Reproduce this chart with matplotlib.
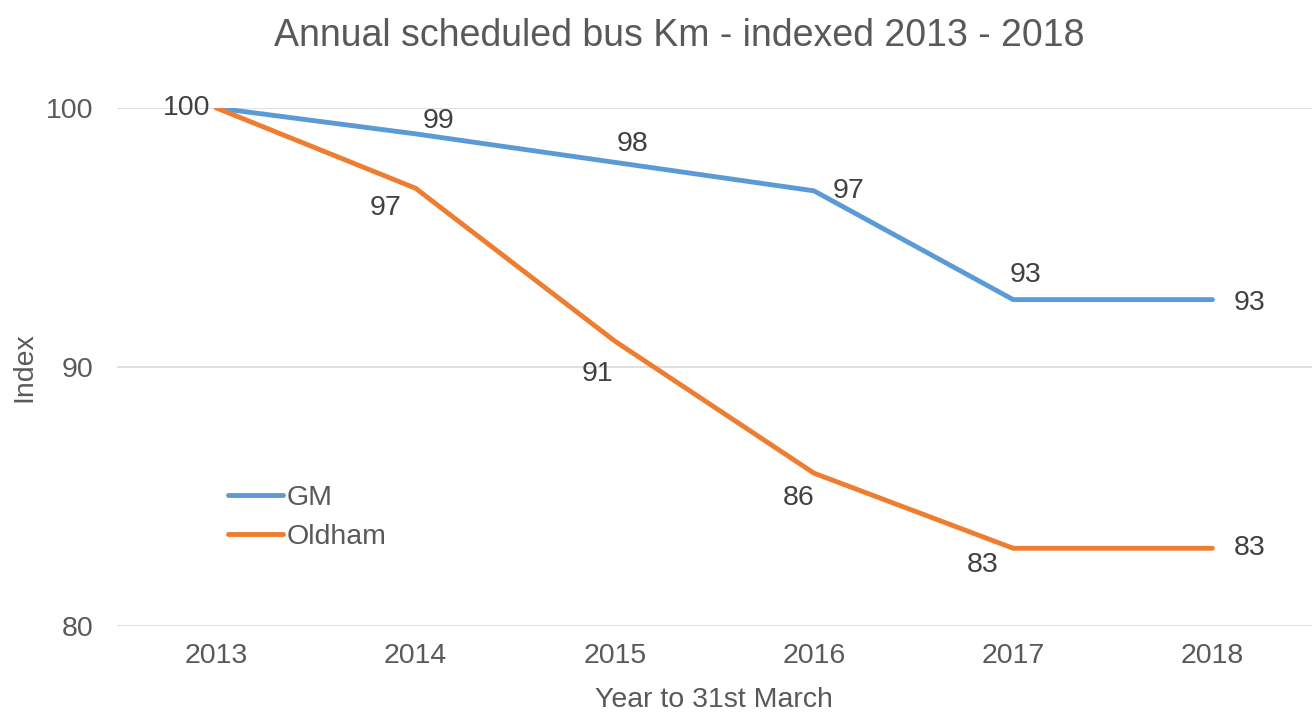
import matplotlib.pyplot as plt

plt.rcParams['font.family'] = ['Liberation Sans', 'DejaVu Sans']

# data
years = ['2013', '2014', '2015', '2016', '2017', '2018']
gm = [100, 99.0, 97.9, 96.8, 92.6, 92.6]
oldham = [100, 96.9, 91.0, 85.9, 83.0, 83.0]
gm_labels = ['', '99', '98', '97', '93', '93']
oldham_labels = ['100', '97', '91', '86', '83', '83']

# label offsets (pixels) from each point
gm_off = [(0, 0), (23, 13), (18, 18), (35, 0), (12, 25), (37, -3)]
old_off = [(-30, 0), (-30, -20), (-17, -33), (-15, -25), (-31, -17), (37, 0)]

blue = '#5B9BD5'
orange = '#ED7D31'
grey = '#595959'
dark = '#404040'
fs = 20.5

fig = plt.figure(figsize=(13.12, 7.15), dpi=100)
ax = fig.add_axes([0.089, 0.1245, 0.911, 0.7245])

x = range(len(years))
ax.plot(x, gm, color=blue, lw=3.5, label='GM', solid_capstyle='round')
ax.plot(x, oldham, color=orange, lw=3.5, label='Oldham', solid_capstyle='round')

for i in x:
    if gm_labels[i]:
        ax.annotate(gm_labels[i], (i, gm[i]), xytext=gm_off[i], textcoords='offset pixels',
                    ha='center', va='center', fontsize=fs, color=dark)
    ax.annotate(oldham_labels[i], (i, oldham[i]), xytext=old_off[i], textcoords='offset pixels',
                ha='center', va='center', fontsize=fs, color=dark)

ax.set_xlim(-0.5, 5.5)
ax.set_ylim(80, 100)
ax.set_yticks([80, 90, 100])
ax.set_xticks(list(x))
ax.set_xticklabels(years)
ax.grid(axis='y', color='#D9D9D9', lw=1.2)
ax.set_axisbelow(True)
for s in ax.spines.values():
    s.set_visible(False)
ax.tick_params(length=0, labelsize=fs, labelcolor=grey, pad=12)
ax.tick_params(axis='y', pad=17)

ax.set_xlabel('Year to 31st March', fontsize=fs, color=grey, labelpad=13)
ax.set_ylabel('Index', fontsize=fs, color=grey, labelpad=6)
fig.suptitle('Annual scheduled bus Km - indexed 2013 - 2018', fontsize=27, color=grey,
             x=0.518, y=0.975)

leg = ax.legend(loc='center left', bbox_to_anchor=(0.072, 0.21), frameon=False,
                fontsize=fs, handlelength=1.9, labelspacing=0.45, handletextpad=0.15)
for t in leg.get_texts():
    t.set_color(grey)

fig.savefig('out.png', dpi=100)
